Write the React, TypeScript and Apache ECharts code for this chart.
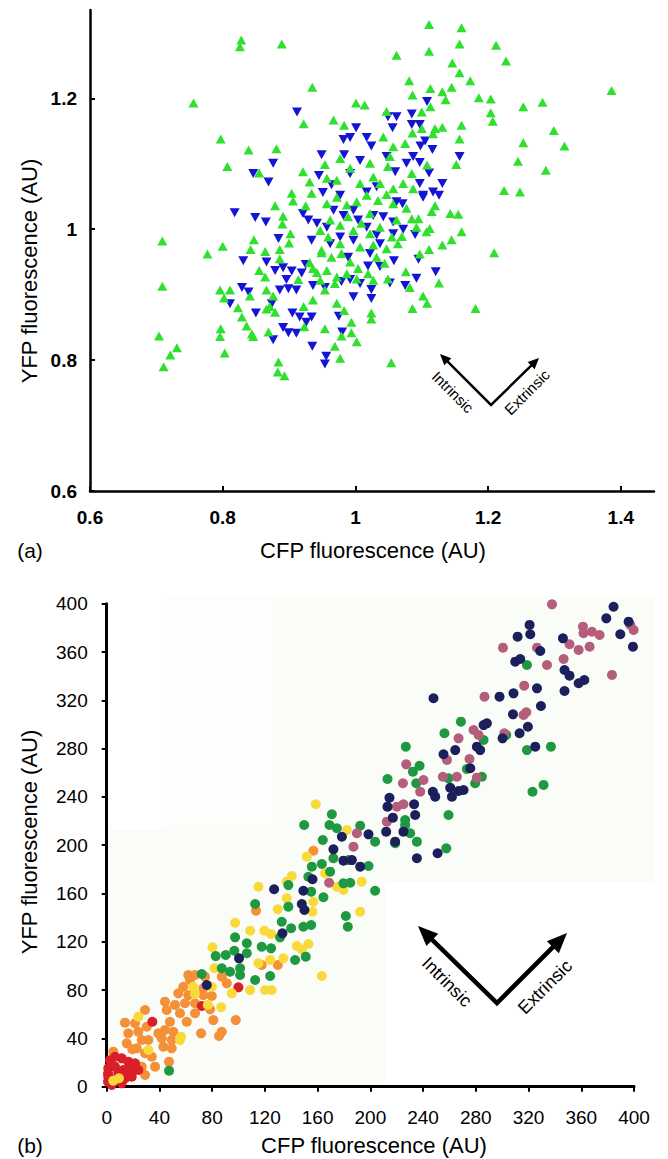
import React, { useEffect, useRef } from 'react';
import * as echarts from 'echarts';

const FONT = '"Liberation Sans", Arial, Helvetica, sans-serif';

// ---------- Panel (a) ----------
const topXTicks = [0.6, 0.8, 1, 1.2, 1.4];
const topYTicks = [0.6, 0.8, 1, 1.2];
const topXName = 'CFP fluorescence (AU)';
const topYName = 'YFP fluorescence (AU)';

const greenUp: number[][] = [
  [0.828, 1.289], [0.826, 1.279], [0.889, 1.283], [1.062, 1.266], [0.935, 1.217], [0.756, 1.193], [1.001, 1.193], [1.014, 1.19],
  [1.047, 1.18], [0.922, 1.161], [0.967, 1.167], [0.983, 1.159], [0.797, 1.138], [0.839, 1.121], [0.881, 1.123], [0.807, 1.096],
  [0.855, 1.086], [0.954, 1.099], [0.977, 1.108], [1.042, 1.141], [1.057, 1.126], [1.052, 1.111], [1.022, 1.101], [0.921, 1.088],
  [0.931, 1.072], [0.904, 1.055], [0.934, 1.055], [0.957, 1.078], [0.972, 1.075], [0.992, 1.093], [1.007, 1.07], [1.027, 1.08],
  [1.037, 1.07], [1.049, 1.096], [1.057, 1.062],
  [1.111, 1.313], [1.16, 1.308], [1.157, 1.283], [1.212, 1.281], [1.111, 1.272], [1.146, 1.254], [1.227, 1.257],
  [1.157, 1.239], [1.173, 1.227], [1.081, 1.227], [1.113, 1.215], [1.131, 1.21], [1.145, 1.217], [1.136, 1.198], [1.086, 1.205],
  [1.186, 1.201], [1.204, 1.199], [1.253, 1.187], [1.282, 1.194], [1.386, 1.212], [1.113, 1.187], [1.1, 1.179], [1.204, 1.178],
  [1.207, 1.165], [1.16, 1.159], [1.131, 1.156], [1.12, 1.154], [1.1, 1.154], [1.086, 1.147], [1.117, 1.146], [1.157, 1.138],
  [1.299, 1.151], [1.253, 1.132], [1.315, 1.127], [1.075, 1.131], [1.152, 1.099], [1.245, 1.104], [1.287, 1.09], [1.085, 1.085],
  [1.108, 1.098], [1.224, 1.059], [1.248, 1.057], [1.072, 1.07], [1.087, 1.062],
  [0.709, 0.982], [0.709, 0.913], [0.704, 0.837], [0.731, 0.819], [0.721, 0.808], [0.711, 0.79], [0.777, 0.962], [0.8, 0.974],
  [0.796, 0.907], [0.811, 0.907], [0.802, 0.895], [0.797, 0.848], [0.796, 0.836], [0.803, 0.811], [0.823, 0.88], [0.829, 0.866],
  [0.836, 0.852], [0.844, 0.84], [0.846, 0.836], [0.841, 0.898], [0.855, 0.937], [0.864, 0.927], [0.842, 0.969], [0.847, 0.984],
  [0.864, 0.966], [0.879, 1.036], [0.891, 1.02], [0.89, 1.008], [0.906, 1.043], [0.925, 1.036], [0.902, 0.993],
  [0.9, 0.979], [0.886, 0.969], [0.886, 0.955], [0.866, 0.907], [0.871, 0.882], [0.866, 0.878], [0.879, 0.873], [0.869, 0.843],
  [0.876, 0.898], [0.914, 0.923], [0.922, 0.882], [0.923, 0.851], [0.936, 0.892], [0.942, 0.934], [0.931, 0.949], [0.949, 0.964],
  [0.954, 0.848], [0.969, 0.821], [0.977, 0.803], [0.979, 0.837], [0.994, 0.858], [1.002, 0.828], [0.994, 0.842], [0.972, 0.887],
  [0.983, 0.876], [0.969, 0.917], [0.947, 0.922], [0.954, 0.907], [1.024, 0.872], [1.024, 0.863], [1.054, 0.796], [0.884, 0.797],
  [0.957, 1.039], [0.972, 1.049], [0.987, 1.037], [1.002, 1.042], [1.017, 1.052], [1.034, 1.044], [1.047, 1.053], [1.057, 1.039],
  [0.947, 0.998], [0.959, 0.988], [0.977, 1.006], [0.997, 0.998], [1.009, 1.009], [1.022, 0.993], [1.037, 1.003], [1.055, 0.988],
  [1.062, 1.014], [0.949, 0.968], [0.964, 0.957], [0.979, 0.963], [0.992, 0.95], [1.004, 0.94], [1.019, 0.932], [1.032, 0.957],
  [1.047, 0.97], [1.064, 0.978], [0.936, 0.94], [0.957, 0.937], [0.972, 0.927], [0.987, 0.932], [1.002, 0.924], [1.027, 0.922],
  [1.049, 0.924], [0.977, 0.978], [1.007, 0.973], [1.027, 0.976], [1.044, 0.948], [0.962, 1.014], [0.989, 1.019], [1.022, 1.024],
  [1.143, 1.024], [1.155, 1.023], [1.16, 0.996], [1.145, 0.984], [1.131, 0.976], [1.111, 0.969], [1.112, 1.001], [1.107, 0.996],
  [1.092, 1.003], [1.095, 1.016], [1.115, 1.027], [1.12, 1.036], [1.077, 1.032], [1.085, 1.016], [1.209, 0.964], [1.097, 0.962],
  [1.076, 0.935], [1.082, 0.911], [1.126, 0.918], [1.102, 0.898], [1.108, 0.887], [1.086, 0.879], [1.181, 0.879], [1.07, 0.989],
  [0.883, 0.782], [0.893, 0.776],
];

const blueDown: number[][] = [
  [0.912, 1.179], [1.001, 1.155], [0.982, 1.137], [0.992, 1.14], [1.017, 1.14], [1.024, 1.127], [1.049, 1.172], [1.062, 1.172],
  [1.056, 1.155], [0.949, 1.114], [0.983, 1.114], [0.876, 1.101], [0.846, 1.085], [0.869, 1.072], [0.945, 1.082], [1.007, 1.105],
  [0.992, 1.085], [1.047, 1.111], [1.06, 1.088], [0.951, 1.056], [0.977, 1.052], [1.017, 1.057], [1.032, 1.065], [0.964, 1.068],
  [1.108, 1.195], [1.085, 1.176], [1.085, 1.16], [1.097, 1.16], [1.105, 1.135], [1.098, 1.127], [1.116, 1.122],
  [1.157, 1.111], [1.087, 1.111], [1.077, 1.101], [1.097, 1.102], [1.111, 1.086], [1.097, 1.07], [1.131, 1.07],
  [1.117, 1.057], [1.126, 1.052], [1.102, 1.052],
  [0.818, 1.025], [0.849, 1.018], [0.865, 1.011], [0.884, 0.986], [0.831, 0.952], [0.866, 0.95], [0.879, 0.937], [0.891, 0.941],
  [0.904, 0.936], [0.919, 0.933], [0.896, 0.923], [0.886, 0.907], [0.829, 0.911], [0.839, 0.904], [0.811, 0.886], [0.899, 0.909],
  [0.911, 0.907], [0.874, 0.886], [0.85, 0.872], [0.905, 0.872], [0.916, 0.866], [0.934, 0.866], [0.926, 0.858], [0.891, 0.85],
  [0.899, 0.842], [0.911, 0.841], [0.876, 0.831], [0.935, 0.821], [0.956, 0.806], [0.954, 0.794], [0.975, 0.867], [0.98, 0.843],
  [0.925, 0.946], [0.936, 0.914], [0.954, 0.911], [0.997, 0.897], [1.024, 0.908], [1.024, 0.894], [1.052, 0.918], [1.037, 0.943],
  [1.058, 0.952], [1.019, 0.944], [0.992, 0.923], [0.979, 0.92], [1.007, 0.917],
  [0.967, 1.029], [0.982, 1.021], [0.997, 1.029], [1.004, 1.014], [1.027, 1.021], [1.042, 1.019], [1.057, 1.011],
  [0.929, 1.014], [0.942, 1.009], [0.934, 0.983], [0.962, 0.978], [0.977, 0.988], [0.997, 0.983], [1.017, 1.003], [1.032, 0.991],
  [1.062, 1.042], [0.921, 1.024], [0.957, 1.003], [0.989, 0.957], [1.022, 0.963], [1.037, 0.978], [1.057, 0.993],
  [1.071, 1.039], [1.102, 1.049], [1.072, 1.0], [1.09, 0.992], [1.095, 0.954], [1.121, 0.935], [1.092, 0.925], [1.075, 0.914],
];

// ---------- Panel (b) ----------
const bottomTickStep = 40;
const bottomXName = 'CFP fluorescence (AU)';
const bottomYName = 'YFP fluorescence (AU)';

const orangeDots: number[][] = [
  [156.8, 195.4], [113.3, 145.8], [117.6, 100.8], [129.8, 100.8], [61.9, 92.5], [67, 92.5], [58.1, 82.8], [54.3, 77.3],
  [61.9, 75.9], [67, 69.1], [59.4, 69.1], [51.8, 67.7], [44.2, 70.4], [45.5, 63.5], [48, 53.8], [44.2, 47], [50.5, 45.5],
  [49.3, 38.7], [41.7, 40.1], [43, 33.1], [49.3, 31.8], [29.1, 63.5], [30.4, 49.7], [31.6, 38.7], [24, 45.5], [26.6, 38.7],
  [21.5, 52.5], [13.9, 53], [16.4, 44.2], [15.2, 35.9], [22.8, 31.8], [29.1, 27.7], [34.2, 24.8], [36.7, 16.6], [29.1, 9.7],
  [47.3, 20.7], [74.6, 91.1], [73.3, 81.5], [79.7, 75.1], [78.4, 64.1], [80.9, 55.2], [87.3, 45.5], [85.2, 42], [71.6, 44.2],
  [97.9, 55.2], [63.2, 88.4], [87.3, 91.1], [91.1, 85.6], [73.3, 75.9], [67, 60.8], [55.6, 60.8], [60.7, 53.8], [39.2, 44.2],
  [5, 29], [26.6, 16.6], [19.4, 31],
];
const redDots: number[][] = [
  [99.9, 82.3], [34.6, 53.8], [72.1, 66.8], [2.5, 22], [6.3, 24.8], [11.4, 23.5], [16.4, 20.7], [21.5, 19.4], [1.2, 15.2],
  [6.3, 16.6], [12.6, 13.8], [17.7, 15.2], [24, 13.8], [1.2, 8.3], [6.3, 5.5], [13.9, 7], [19, 8.3], [1, 4.1], [3.8, 1.4],
  [11.4, 2.8], [8.8, 11.1], [15.2, 11.1], [1, 11],
];
const yellowDots: number[][] = [
  [158.6, 233.9], [182.2, 212.6], [115.1, 165.6], [140.4, 174.5], [136.6, 169.8], [151.8, 190.5], [165.7, 176.7], [174.6, 165.6],
  [179.6, 162.9], [193.5, 169.8], [129.8, 146.9], [136.6, 156], [156.8, 153.2], [156.1, 144.9], [192.3, 144.9], [97.4, 135.8],
  [108.8, 129.2], [119.6, 129.2], [124.7, 126.5], [144.2, 116.5], [153, 118.2], [148, 113.8], [163.2, 91.7], [80.2, 115.4],
  [115.1, 102.2], [124, 104.9], [134, 106.3], [81.7, 98.1], [79.7, 82.8], [94.9, 77.3], [108.8, 80.1], [120.1, 80.1],
  [125.2, 80.1], [65.7, 82.8], [67, 76.8], [86.8, 65.8], [76.7, 67.7], [24, 58], [56.4, 41.4], [31.6, 30.4], [55.6, 38.7],
  [9.3, 7], [5, 5],
];
const greenDots: number[][] = [
  [318.8, 349.2], [268.7, 302.3], [256.2, 292.7], [285.9, 287.1], [318.8, 278.8], [337, 281.6], [303.1, 291.3], [226.9, 281.6],
  [237.3, 265.8], [232.3, 260.9], [213, 254.8], [234.8, 251.3], [273.2, 263.1], [284.6, 256.7], [279.5, 251.3], [259.3, 255.4],
  [331.4, 249.9], [323, 244.3], [259.3, 225], [226.4, 220.9], [226.4, 216.7], [170.8, 225.6], [149.8, 216.7], [169, 216.7],
  [174.6, 214], [192.3, 216.2], [230.2, 209.9], [163.9, 204.3], [203.6, 202.9], [235.3, 202.9], [172, 189.2], [183.4, 187.7],
  [198.6, 182.8], [155.6, 182.2], [163.2, 184.4], [169.5, 178.1], [153, 173.9], [179.6, 168.4], [184.7, 168.9], [203.6, 162.3],
  [164.4, 156.9], [137.8, 167], [112.6, 151.3], [137.8, 149.1], [155.1, 161.5], [181.4, 141.4], [182.9, 132.5], [132.8, 136.6],
  [139.9, 131.2], [149.2, 132.5], [155.1, 133.9], [131.5, 123.7], [97.4, 123.7], [106.3, 118.8], [82.7, 108.2], [90.3, 109.1],
  [96.8, 112.6], [106.3, 110.5], [117.6, 115.9], [124.7, 114.6], [87.3, 98.1], [93.6, 95.2], [101.2, 98.1], [101.2, 92.5],
  [112.6, 88.4], [124, 91.7], [72.1, 93.3], [142.9, 104.9], [151, 107.7], [47.3, 13.3], [257.6, 197.4], [218.8, 201.6],
];
const mauveDots: number[][] = [
  [337.8, 399.5], [361.3, 381], [368.1, 376.8], [361.7, 375.5], [373.9, 374.1], [397.2, 382.4], [399.7, 378.2], [351.1, 366.4],
  [358, 361.7], [366.3, 364.4], [300.6, 363.6], [326.4, 363.6], [334, 349.2], [346.6, 354.2], [383.3, 341], [286.6, 323],
  [316.7, 332.1], [316.2, 307.8], [318.3, 310.1], [278.3, 295.4], [282.1, 291.3], [301.6, 292.7], [266.9, 288.5], [275.2, 271.4],
  [258.1, 270.6], [227.2, 267], [240.3, 254], [224.7, 251.3], [237.8, 244.3], [255, 256.7], [265.6, 256.7], [280.8, 255.9],
  [220.1, 231.9], [225.1, 233.9], [212.5, 219.5], [189.8, 209.9], [187.2, 198.8], [168.7, 168.9],
];
const navyDots: number[][] = [
  [384.5, 397.5], [379, 387.9], [395.9, 385.1], [389.6, 374.7], [399.2, 364.4], [320.8, 382.4], [321.3, 374.7], [311.7, 372.7],
  [328.9, 360.8], [346.1, 371.3], [309.9, 352], [313.7, 354.2], [347.3, 345.1], [351.1, 340.4], [358, 334.1], [362.3, 336.8],
  [347.3, 327.7], [298, 323], [308.6, 325.8], [326.4, 329.9], [329.4, 315.3], [308.2, 308.4], [247.9, 321.7], [288.4, 300.9],
  [285.9, 299.5], [319.5, 298.1], [313.2, 292.7], [300.3, 288.5], [325.1, 281.6], [280.8, 281.6], [283.3, 278.8], [264.4, 278.8],
  [255.5, 275.3], [275.8, 263.7], [260.6, 247.6], [247.4, 244.3], [249.2, 240.2], [270.7, 245.7], [261.9, 240.2], [266.9, 244.9],
  [214.5, 239.3], [213, 231.9], [233.2, 233.9], [234, 225], [217.1, 222.8], [212, 211.2], [198.6, 209], [178.4, 207],
  [225.1, 211.2], [218.8, 202.9], [172, 196.6], [179.6, 187.2], [186, 187.7], [192.3, 182.2], [156.1, 171.8], [127, 163.5],
  [149.2, 162.3], [148, 151.3], [150, 146.3], [133.3, 127], [100.4, 106.3], [75.9, 84.2], [235.3, 189.2], [251, 193.3],
];

// ---------- helpers for decorations ----------
function arrowV(vx: number, vy: number, lx: number, ly: number, rx: number, ry: number, lw: number, hl: number, hw: number) {
  const head = (tx: number, ty: number) => {
    const dx = tx - vx, dy = ty - vy;
    const len = Math.hypot(dx, dy);
    const ux = dx / len, uy = dy / len;
    const bx = tx - ux * hl, by = ty - uy * hl;
    const px = -uy, py = ux;
    return {
      base: [bx + ux * 1.5, by + uy * 1.5],
      poly: [[tx, ty], [bx + (px * hw) / 2, by + (py * hw) / 2], [bx - (px * hw) / 2, by - (py * hw) / 2]],
    };
  };
  const L = head(lx, ly);
  const R = head(rx, ry);
  return [
    { type: 'polyline', shape: { points: [L.base, [vx, vy], R.base] }, style: { stroke: '#000', lineWidth: lw, fill: 'none', lineJoin: 'miter' } },
    { type: 'polygon', shape: { points: L.poly }, style: { fill: '#000' } },
    { type: 'polygon', shape: { points: R.poly }, style: { fill: '#000' } },
  ];
}

function label(text: string, x: number, y: number, size: number, rotation = 0) {
  return {
    type: 'text',
    x,
    y,
    rotation,
    style: {
      text,
      fill: '#000',
      font: `${size}px ${FONT}`,
      align: 'center',
      verticalAlign: 'middle',
      textAlign: 'center',
      textVerticalAlign: 'middle',
    },
  };
}

export default function App() {
  const ref = useRef<HTMLDivElement>(null);
  useEffect(() => {
    document.body.style.margin = '0';
    const chart = echarts.init(ref.current!, undefined, { renderer: 'svg' });

    const topLabelStyle = { color: '#000', fontSize: 19, fontWeight: 'bold', fontFamily: FONT };
    const botLabelStyle = { color: '#000', fontSize: 19, fontFamily: FONT };

    const option: any = {
      animation: false,
      backgroundColor: '#fff',
      grid: [
        { left: 90, top: 10, width: 564, height: 481 },
        { left: 106.7, top: 603.7, width: 527.3, height: 483 },
      ],
      xAxis: [
        {
          gridIndex: 0, type: 'value', min: 0.6, max: 1.45, interval: 0.2,
          splitLine: { show: false },
          axisLine: { onZero: false, lineStyle: { color: '#000', width: 2.5 } },
          axisTick: { inside: true, length: 5, lineStyle: { color: '#000', width: 2 }, customValues: topXTicks },
          axisLabel: { ...topLabelStyle, margin: 17, customValues: topXTicks },
        },
        {
          gridIndex: 1, type: 'value', min: 0, max: 400, interval: bottomTickStep,
          splitLine: { show: false },
          axisLine: { onZero: false, lineStyle: { color: '#000', width: 3 } },
          axisTick: { inside: false, length: 5, lineStyle: { color: '#000', width: 2 } },
          axisLabel: { ...botLabelStyle, margin: 21 },
        },
      ],
      yAxis: [
        {
          gridIndex: 0, type: 'value', min: 0.6, max: 1.335, interval: 0.2,
          splitLine: { show: false },
          axisLine: { onZero: false, lineStyle: { color: '#000', width: 2.5 } },
          axisTick: { inside: true, length: 5, lineStyle: { color: '#000', width: 2 }, customValues: topYTicks },
          axisLabel: { ...topLabelStyle, margin: 13, customValues: topYTicks },
        },
        {
          gridIndex: 1, type: 'value', min: 0, max: 400, interval: bottomTickStep,
          splitLine: { show: false },
          axisLine: { onZero: false, lineStyle: { color: '#000', width: 3 } },
          axisTick: { inside: false, length: 5, lineStyle: { color: '#000', width: 2 } },
          axisLabel: { ...botLabelStyle, margin: 19 },
        },
      ],
      series: [
        { type: 'scatter', xAxisIndex: 0, yAxisIndex: 0, data: blueDown, symbol: 'triangle', symbolRotate: 180, symbolSize: [10, 9], itemStyle: { color: '#1414d4', opacity: 1 }, silent: true, clip: false },
        { type: 'scatter', xAxisIndex: 0, yAxisIndex: 0, data: greenUp, symbol: 'triangle', symbolSize: [10, 9], itemStyle: { color: '#2fe02f', opacity: 1 }, silent: true, clip: false },
        { type: 'scatter', xAxisIndex: 1, yAxisIndex: 1, data: orangeDots, symbol: 'circle', symbolSize: 10, itemStyle: { color: '#f39038', opacity: 1 }, silent: true, clip: false },
        { type: 'scatter', xAxisIndex: 1, yAxisIndex: 1, data: redDots, symbol: 'circle', symbolSize: 10, itemStyle: { color: '#d91f28', opacity: 1 }, silent: true, clip: false },
        { type: 'scatter', xAxisIndex: 1, yAxisIndex: 1, data: yellowDots, symbol: 'circle', symbolSize: 10, itemStyle: { color: '#f8da3a', opacity: 1 }, silent: true, clip: false },
        { type: 'scatter', xAxisIndex: 1, yAxisIndex: 1, data: greenDots, symbol: 'circle', symbolSize: 10, itemStyle: { color: '#1f9842', opacity: 1 }, silent: true, clip: false },
        { type: 'scatter', xAxisIndex: 1, yAxisIndex: 1, data: mauveDots, symbol: 'circle', symbolSize: 10, itemStyle: { color: '#b45e7b', opacity: 1 }, silent: true, clip: false },
        { type: 'scatter', xAxisIndex: 1, yAxisIndex: 1, data: navyDots, symbol: 'circle', symbolSize: 10, itemStyle: { color: '#1b1f5c', opacity: 1 }, silent: true, clip: false },
      ],
      graphic: [
        // faint background tint of panel (b)
        { type: 'polygon', z: -10, silent: true, shape: { points: [[273, 597], [655, 597], [655, 882], [385, 882], [385, 1082], [108, 1082], [108, 830], [273, 830]] }, style: { fill: '#f9fcf7' } },
        { type: 'rect', z: -10, silent: true, shape: { x: 162, y: 597, width: 111, height: 233 }, style: { fill: '#fcfefb' } },
        label(topXName, 373, 550, 22),
        label(topYName, 29, 271, 22, Math.PI / 2),
        label('(a)', 30, 550, 21),
        label(bottomXName, 374, 1145, 22),
        label(bottomYName, 29, 842, 22, Math.PI / 2),
        label('(b)', 30, 1145, 21),
        ...arrowV(491, 405, 440, 354, 539, 358, 2.5, 11, 10),
        label('Intrinsic', 453, 392, 15, -Math.PI / 4),
        label('Extrinsic', 527, 392, 15, Math.PI / 4),
        ...arrowV(497, 1003, 418, 926, 567, 933, 4.5, 20, 17),
        label('Intrinsic', 447, 982, 18, -Math.PI / 4),
        label('Extrinsic', 545, 987, 18, Math.PI / 4),
      ],
    };
    chart.setOption(option);
    return () => chart.dispose();
  }, []);
  return <div ref={ref} style={{ width: 668, height: 1159 }} />;
}
